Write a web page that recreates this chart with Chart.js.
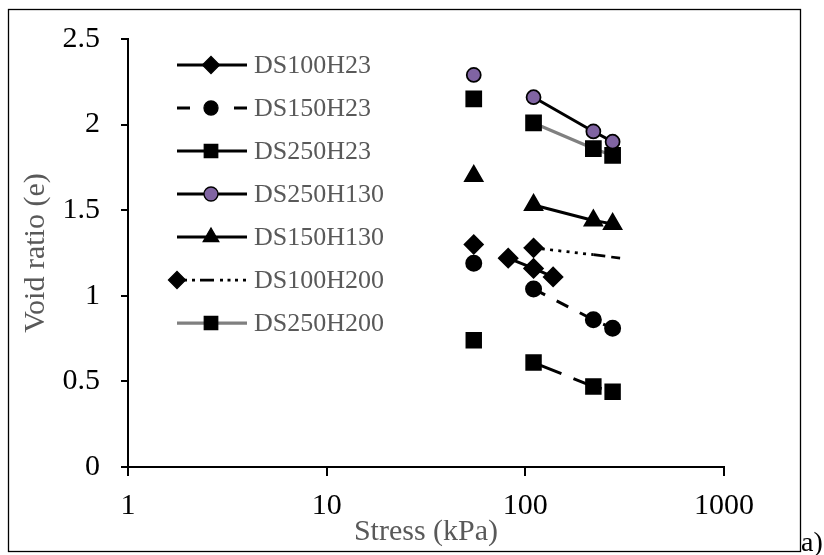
<!DOCTYPE html>
<html>
<head>
<meta charset="utf-8">
<title>Void ratio vs stress</title>
<script src="https://cdn.jsdelivr.net/npm/chart.js@4.4.1/dist/chart.umd.min.js"></script>
<style>
    html, body { margin: 0; padding: 0; background: #ffffff; }
    #wrap { position: relative; width: 824px; height: 555px; }
</style>
</head>
<body>
<div id="wrap"><canvas id="voidChart" width="824" height="555"></canvas></div>
<script>
// Stress levels (kPa)
const stress = [55, 110, 220, 275];
const stressDS100H23 = [82, 110, 138];
const stressDS100H200 = [55, 110, 220, 300];

// Void ratio (e) per sample
const ds100h23 = [1.22, 1.16, 1.11];
const ds150h23 = [1.19, 1.04, 0.86, 0.81];
const ds250h23 = [0.74, 0.61, 0.47, 0.44];
const ds250h130 = [2.29, 2.16, 1.96, 1.90];
const ds150h130 = [1.70, 1.53, 1.44, 1.42];
const ds100h200 = [1.30, 1.28, 1.24, 1.22];
const ds250h200 = [2.15, 2.01, 1.86, 1.82];

// Axis ticks
const xTicks = [1, 10, 100, 1000];
const yTicks = [0, 0.5, 1, 1.5, 2, 2.5];

const serif = '"Liberation Serif", "Times New Roman", serif';
const HIDDEN = 'rgba(0,0,0,0)';

function pts(xs, ys) {
    return ys.map((y, i) => ({ x: xs[i], y: y }));
}

// first point of these series is not joined to the rest
const skipFirst = ctx => ctx.p0DataIndex === 0 ? HIDDEN : undefined;

const datasets = [
    {
        label: "DS100H23",
        data: pts(stressDS100H23, ds100h23),
        borderColor: "#000", backgroundColor: "#000", borderWidth: 3,
        pointStyle: "rectRot", pointRadius: 8.5,
        legendDash: [], legendMarker: "center"
    },
    {
        label: "DS150H23",
        data: pts(stress, ds150h23),
        borderColor: "#000", backgroundColor: "#000", borderWidth: 3,
        borderDash: [13, 13],
        pointStyle: "circle", pointRadius: 7,
        segment: { borderColor: skipFirst },
        legendDash: [13, 30], legendMarker: "center"
    },
    {
        label: "DS250H23",
        data: pts(stress, ds250h23),
        borderColor: "#000", backgroundColor: "#000", borderWidth: 3,
        borderDash: [30, 13],
        pointStyle: "rect", pointRadius: 9.5,
        segment: { borderColor: skipFirst },
        legendDash: [], legendMarker: "center"
    },
    {
        label: "DS250H130",
        data: pts(stress, ds250h130),
        borderColor: "#000", backgroundColor: "#8064A2", borderWidth: 3,
        pointBorderColor: "#000", pointBorderWidth: 1.75,
        pointStyle: "circle", pointRadius: 7,
        segment: { borderColor: skipFirst },
        legendDash: [], legendMarker: "center"
    },
    {
        label: "DS150H130",
        data: pts(stress, ds150h130),
        borderColor: "#000", backgroundColor: "#000", borderWidth: 3,
        pointStyle: "triangle", pointRadius: 9,
        segment: { borderColor: skipFirst },
        legendDash: [], legendMarker: "center"
    },
    {
        label: "DS100H200",
        data: pts(stressDS100H200, ds100h200),
        borderColor: "#000", backgroundColor: "#000", borderWidth: 2.75,
        pointStyle: "rectRot", pointRadius: [8.5, 8.5, 0, 0],
        segment: {
            borderColor: skipFirst,
            borderDash: ctx => ctx.p0DataIndex === 2 ? [12, 6] : [3, 5.3]
        },
        legendDash: [3, 5, 3, 5, 14, 6, 3, 4.5, 3, 4.5, 3, 5], legendMarker: "start"
    },
    {
        label: "DS250H200",
        data: pts(stress, ds250h200),
        borderColor: "#808080", backgroundColor: "#000", borderWidth: 3.25,
        pointBorderColor: "#000",
        pointStyle: "rect", pointRadius: 9.5,
        segment: { borderColor: skipFirst },
        legendDash: [], legendMarker: "center"
    }
];

// legend, axis titles, frame and panel tag
const decorPlugin = {
    id: "decor",
    afterDraw(chart) {
        const ctx = chart.ctx;
        const area = chart.chartArea;
        ctx.save();

        // outer frame
        ctx.strokeStyle = "#000";
        ctx.lineWidth = 1.3;
        ctx.strokeRect(8.5, 9.5, 792, 542);

        // axis titles
        ctx.fillStyle = "#595959";
        ctx.font = "30px " + serif;
        ctx.textAlign = "center";
        ctx.textBaseline = "alphabetic";
        ctx.fillText("Stress (kPa)", (area.left + area.right) / 2, 540);

        ctx.save();
        ctx.translate(44, (area.top + area.bottom) / 2);
        ctx.rotate(-Math.PI / 2);
        ctx.fillText("Void ratio (e)", 0, 0);
        ctx.restore();

        // panel tag
        ctx.fillStyle = "#000";
        ctx.font = "28px " + serif;
        ctx.textAlign = "left";
        ctx.fillText("a)", 801, 551);

        // legend
        const x0 = 177, x1 = 247, mid = 211, textX = 254;
        let y = 65;
        datasets.forEach(ds => {
            ctx.save();
            ctx.strokeStyle = ds.borderColor;
            ctx.lineWidth = ds.borderWidth;
            ctx.setLineDash(ds.legendDash);
            ctx.beginPath();
            if (ds.legendMarker === "start") {
                ctx.moveTo(x0 + 7, y);
                ctx.lineTo(x1, y);
            } else {
                ctx.moveTo(x0, y);
                ctx.lineTo(mid, y);
                ctx.moveTo(x1, y);
                ctx.lineTo(mid, y);
            }
            ctx.stroke();
            ctx.restore();

            ctx.save();
            ctx.fillStyle = ds.backgroundColor;
            ctx.strokeStyle = ds.pointBorderColor || ds.borderColor;
            const r = Array.isArray(ds.pointRadius) ? ds.pointRadius[0] : ds.pointRadius;
            Chart.helpers.drawPoint(ctx, {
                pointStyle: ds.pointStyle,
                radius: r,
                rotation: 0,
                borderWidth: ds.pointBorderWidth || 1
            }, ds.legendMarker === "start" ? x0 : mid, y);
            ctx.restore();

            ctx.fillStyle = "#595959";
            ctx.font = "26px " + serif;
            ctx.textAlign = "left";
            ctx.textBaseline = "middle";
            ctx.fillText(ds.label, textX, y + 1);
            y += 43;
        });

        ctx.restore();
    }
};

const chart = new Chart(document.getElementById("voidChart").getContext("2d"), {
    type: "line",
    data: { datasets: datasets },
    options: {
        responsive: false,
        animation: false,
        devicePixelRatio: 1,
        spanGaps: false,
        elements: {
            line: { tension: 0, fill: false },
            point: { borderWidth: 1, hoverRadius: 8 }
        },
        layout: { padding: { left: 0, top: 39, right: 100, bottom: 0 } },
        plugins: {
            legend: { display: false },
            tooltip: { enabled: false },
            title: { display: false }
        },
        scales: {
            x: {
                type: "logarithmic",
                min: 1,
                max: 1000,
                afterBuildTicks: scale => {
                    scale.ticks = xTicks.map(v => ({ value: v }));
                },
                afterFit: scale => { scale.height = 88; },
                grid: { drawOnChartArea: false, drawTicks: true, tickLength: 9, color: "#000", lineWidth: 2 },
                border: { color: "#000", width: 2 },
                ticks: {
                    color: "#000",
                    font: { family: serif, size: 30 },
                    padding: 12,
                    maxRotation: 0,
                    autoSkip: false,
                    callback: v => String(v)
                }
            },
            y: {
                type: "linear",
                min: 0,
                max: 2.5,
                afterBuildTicks: scale => {
                    scale.ticks = yTicks.map(v => ({ value: v }));
                },
                afterFit: scale => { scale.width = 128; },
                grid: { drawOnChartArea: false, drawTicks: true, tickLength: 7, color: "#000", lineWidth: 2 },
                border: { color: "#000", width: 2 },
                ticks: {
                    color: "#000",
                    font: { family: serif, size: 30 },
                    padding: 21,
                    autoSkip: false,
                    callback: v => String(v)
                }
            }
        }
    },
    plugins: [decorPlugin]
});
</script>
</body>
</html>
